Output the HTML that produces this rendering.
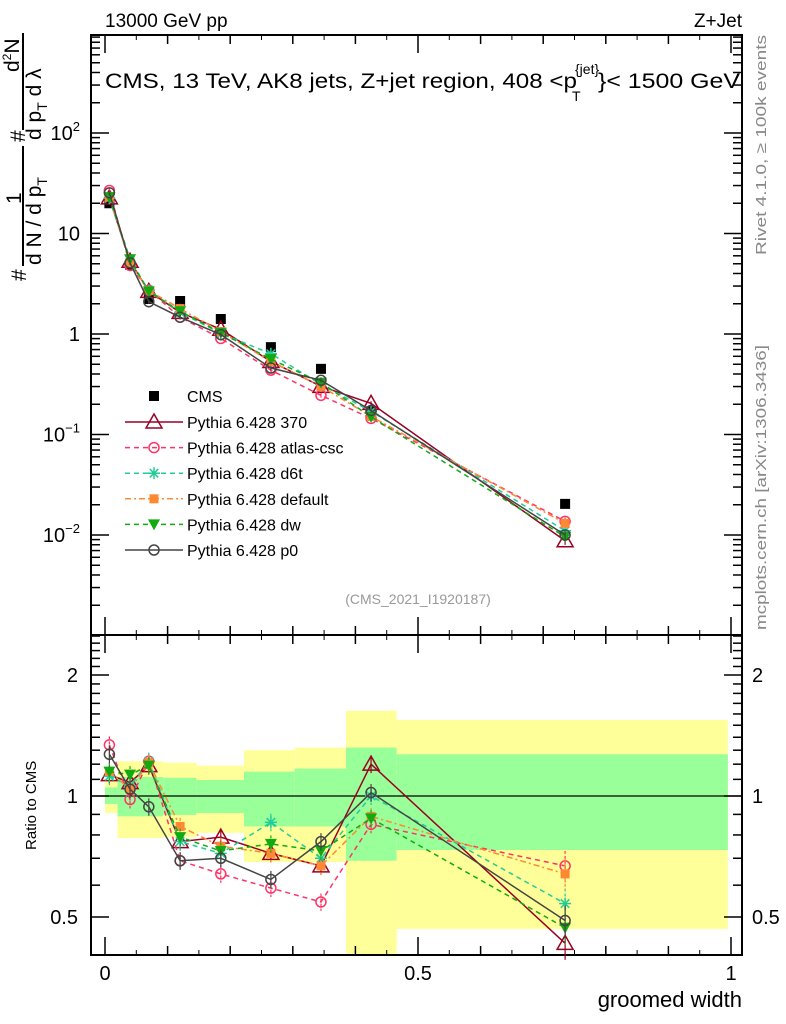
<!DOCTYPE html>
<html><head><meta charset="utf-8"><style>
html,body{margin:0;padding:0;background:#fff;}
svg{display:block;font-family:"Liberation Sans",sans-serif;}
</style></head><body>
<svg id="c" width="786" height="1024" viewBox="0 0 786 1024" xmlns="http://www.w3.org/2000/svg">
<text x="105" y="27" font-size="19">13000 GeV pp</text>
<text x="742" y="27" font-size="19" text-anchor="end">Z+Jet</text>
<g font-size="21">
<text transform="translate(26,281) rotate(-90)">#</text>
<text transform="translate(21,204) rotate(-90)">1</text>
<line x1="23" y1="146" x2="23" y2="266" stroke="#000" stroke-width="2"/>
<text transform="translate(41,265) rotate(-90)">d N / d p<tspan font-size="14" dy="6">T</tspan></text>
<text transform="translate(25,142) rotate(-90)">#</text>
<text transform="translate(19,72) rotate(-90)">d<tspan font-size="12" dy="-8">2</tspan><tspan dy="8">N</tspan></text>
<line x1="23" y1="33" x2="23" y2="130" stroke="#000" stroke-width="2"/>
<text transform="translate(41,140) rotate(-90)">d p<tspan font-size="14" dy="6">T</tspan><tspan dy="-6">  d λ</tspan></text>
</g>
<text transform="translate(766,255) rotate(-90)" font-size="15" fill="#888" textLength="220" lengthAdjust="spacingAndGlyphs">Rivet 4.1.0, ≥ 100k events</text>
<text transform="translate(766,630) rotate(-90)" font-size="15" fill="#888" textLength="285" lengthAdjust="spacingAndGlyphs">mcplots.cern.ch [arXiv:1306.3436]</text>
<text transform="translate(36,850) rotate(-90)" font-size="15">Ratio to CMS</text>
<text x="742" y="1007" font-size="22" text-anchor="end">groomed width</text>
<g>
<text x="105" y="88" font-size="21" textLength="472" lengthAdjust="spacingAndGlyphs">CMS, 13 TeV, AK8 jets, Z+jet region, 408 &lt;p</text>
<text x="572" y="101" font-size="14">T</text>
<text x="575" y="74" font-size="14">{jet}</text>
<text x="598" y="88" font-size="21" textLength="142" lengthAdjust="spacingAndGlyphs">}&lt; 1500 GeV</text>
</g>
</svg>
<script>
const categories=[0.007,0.04,0.07,0.12,0.185,0.265,0.345,0.425,0.735];
const cmsValues=[20,4.9,2.23,2.13,1.41,0.74,0.45,0.17,0.0204];
const ratio370=[1.13,1.08,1.19,0.77,0.79,0.72,0.67,1.2,0.43];
const ratioAtlas=[1.34,0.98,1.22,0.69,0.64,0.59,0.545,0.85,0.67];
const ratioD6t=[1.12,1.06,1.22,0.77,0.72,0.86,0.70,1.0,0.54];
const ratioDefault=[1.15,1.04,1.21,0.84,0.75,0.72,0.67,0.89,0.64];
const ratioDw=[1.15,1.13,1.19,0.79,0.73,0.76,0.73,0.88,0.47];
const ratioP0=[1.27,1.04,0.94,0.69,0.70,0.62,0.77,1.02,0.49];
const binEdges=[0,0.02,0.093,0.146,0.222,0.303,0.385,0.466,0.995];
const bandYellowHi=[1.096,1.22,1.21,1.19,1.30,1.32,1.63,1.545];
const bandYellowLo=[0.907,0.786,0.79,0.81,0.685,0.685,0.30,0.467];
const bandGreenHi=[1.05,1.115,1.11,1.096,1.15,1.17,1.32,1.27];
const bandGreenLo=[0.955,0.89,0.897,0.907,0.84,0.84,0.69,0.734];
const mainTicks=["10<tspan font-size='13' dy='-9'>−2</tspan>","10<tspan font-size='13' dy='-9'>−1</tspan>","1","10","10<tspan font-size='13' dy='-9'>2</tspan>"];
const ratioTicks=[2,1,0.5];
const xTicks=[0,0.5,1];

const NS="http://www.w3.org/2000/svg";
const svg=document.getElementById('c');
const L=91,R=742,T=35,M=635,B=955;
const X=v=>105+v*626;
const Y=v=>334-Math.log10(v)*100.5;
const RY=v=>796-Math.log2(v)*121;
function mk(tag,attrs,parent){const e=document.createElementNS(NS,tag);for(const k in attrs)e.setAttribute(k,attrs[k]);(parent||svg).appendChild(e);return e;}

const bands=mk('g',{});


for(let i=0;i<bandYellowHi.length;i++){
 const x1=X(binEdges[i]),x2=X(binEdges[i+1]);
 const yh=Math.max(RY(bandYellowHi[i]),M),yl=Math.min(RY(bandYellowLo[i]),B);
 const r=mk('rect',{x:x1,y:yh,width:x2-x1,height:yl-yh,fill:'#ffff99'},bands);
 
 
 const g=mk('rect',{x:x1,y:RY(bandGreenHi[i]),width:x2-x1,height:RY(bandGreenLo[i])-RY(bandGreenHi[i]),fill:'#99ff99'},bands);
 
 
}
mk('line',{x1:L,x2:R,y1:RY(1),y2:RY(1),stroke:'#000','stroke-width':1.3});

const f1=mk('rect',{x:L,y:T,width:R-L,height:M-T,fill:'none',stroke:'#000','stroke-width':2});


const f2=mk('rect',{x:L,y:M,width:R-L,height:B-M,fill:'none',stroke:'#000','stroke-width':2});



for(let k=0;k<=10;k++){
 const v=k/10, maj=(k%5==0), len=maj?18:9, x=X(v);
 [[T,1],[M,-1],[M,1],[B,-1]].forEach(([y,d])=>mk('line',{x1:x,x2:x,y1:y,y2:y+d*len,stroke:'#000','stroke-width':1.5}));
}
for(let k=0;k<10;k++){const x=X(k/10+0.05);[[T,1],[M,-1],[M,1],[B,-1]].forEach(([y,d])=>mk('line',{x1:x,x2:x,y1:y,y2:y+d*5,stroke:'#000','stroke-width':1}));}
xTicks.forEach(v=>{const t=mk('text',{x:X(v),y:980,'font-size':20,'text-anchor':'middle'});t.textContent=String(v);});

for(let e=-3;e<=2;e++){for(let m=1;m<10;m++){const v=m*Math.pow(10,e),y=Y(v);if(y<T||y>M)continue;const len=m==1?18:9;
 mk('line',{x1:L,x2:L+len,y1:y,y2:y,stroke:'#000','stroke-width':1.5});mk('line',{x1:R,x2:R-len,y1:y,y2:y,stroke:'#000','stroke-width':1.5});}}
mainTicks.forEach((s,i)=>{const t=mk('text',{x:80,y:Y(Math.pow(10,i-2))+7,'font-size':20,'text-anchor':'end'});t.innerHTML=s;});

[0.5,0.6,0.7,0.8,0.9,1,1.1,1.2,1.3,1.4,1.5,1.6,1.7,1.8,1.9,2,2.1,2.2,2.3,2.4,2.5].forEach(v=>{const y=RY(v);if(y<M||y>B)return;const maj=[0.5,1,2].includes(v),len=maj?18:9;
 mk('line',{x1:L,x2:L+len,y1:y,y2:y,stroke:'#000','stroke-width':1.5});mk('line',{x1:R,x2:R-len,y1:y,y2:y,stroke:'#000','stroke-width':1.5});});
ratioTicks.forEach(v=>{const a=mk('text',{x:78,y:RY(v)+7,'font-size':20,'text-anchor':'end'});a.textContent=String(v);
 const b=mk('text',{x:752,y:RY(v)+7,'font-size':20});b.textContent=String(v);});

const ref=mk('text',{x:418,y:604,'font-size':14,fill:'#999','text-anchor':'middle'});ref.textContent="(CMS_2021_I1920187)";


function marker(g,type,color,x,y){
 const s=6;
 if(type=='sq')mk('rect',{x:x-5,y:y-5,width:10,height:10,fill:color},g);
 else if(type=='tri')mk('polygon',{points:`${x},${y-8} ${x-8},${y+6} ${x+8},${y+6}`,fill:'none',stroke:color,'stroke-width':1.5},g);
 else if(type=='oc')mk('circle',{cx:x,cy:y,r:5,fill:'none',stroke:color,'stroke-width':1.5},g);
 else if(type=='sqf')mk('rect',{x:x-4.5,y:y-4.5,width:9,height:9,fill:color},g);
 else if(type=='dt')mk('polygon',{points:`${x-6},${y-5} ${x+6},${y-5} ${x},${y+6}`,fill:color},g);
 else if(type=='star'){for(const a of [0,45,90,135]){const r=a*Math.PI/180;mk('line',{x1:x-s*Math.cos(r),y1:y-s*Math.sin(r),x2:x+s*Math.cos(r),y2:y+s*Math.sin(r),stroke:color,'stroke-width':1.5},g);}}
}
const series=[
 {name:'pythia-370',label:'Pythia 6.428 370',r:ratio370,c:'#990022',m:'tri',d:''},
 {name:'pythia-atlas-csc',label:'Pythia 6.428 atlas-csc',r:ratioAtlas,c:'#ff3366',m:'oc',d:'5,4'},
 {name:'pythia-d6t',label:'Pythia 6.428 d6t',r:ratioD6t,c:'#22cc99',m:'star',d:'5,4'},
 {name:'pythia-default',label:'Pythia 6.428 default',r:ratioDefault,c:'#ff8833',m:'sqf',d:'6,3,2,3'},
 {name:'pythia-dw',label:'Pythia 6.428 dw',r:ratioDw,c:'#11aa11',m:'dt',d:'5,4'},
 {name:'pythia-p0',label:'Pythia 6.428 p0',r:ratioP0,c:'#444444',m:'oc',d:''}
];
const cg=mk('g',{});
categories.forEach((x,i)=>marker(cg,'sq','#000',X(x),Y(cmsValues[i])));
series.forEach(s=>{
 const g=mk('g',{});
 const pm=categories.map((x,i)=>X(x)+','+Y(cmsValues[i]*s.r[i])).join(' ');
 const pr=categories.map((x,i)=>X(x)+','+RY(s.r[i])).join(' ');
 mk('polyline',{points:pm,fill:'none',stroke:s.c,'stroke-width':1.5,'stroke-dasharray':s.d},g);
 mk('polyline',{points:pr,fill:'none',stroke:s.c,'stroke-width':1.5,'stroke-dasharray':s.d},g);
 categories.forEach((x,i)=>{
  const v=cmsValues[i]*s.r[i],e=i==8?0.09:0.05;
  mk('line',{x1:X(x),x2:X(x),y1:RY(s.r[i]*(1+e)),y2:RY(s.r[i]*(1-e)),stroke:s.c,'stroke-width':1.2,'stroke-dasharray':s.d?'3,2':''},g);
  mk('line',{x1:X(x),x2:X(x),y1:Y(v*(1+e)),y2:Y(v*(1-e)),stroke:s.c,'stroke-width':1.2},g);
  marker(g,s.m,s.c,X(x),Y(v));marker(g,s.m,s.c,X(x),RY(s.r[i]));
 });
});
const lg=mk('g',{});
const e0=mk('g',{},lg);
marker(e0,'sq','#000',154,396);const t0=mk('text',{x:187,y:402,'font-size':16},e0);t0.textContent='CMS';
series.forEach((s,i)=>{const y=422+i*25.6;const e=mk('g',{},lg);
 mk('line',{x1:125,x2:183,y1:y,y2:y,stroke:s.c,'stroke-width':1.5,'stroke-dasharray':s.d},e);marker(e,s.m,s.c,154,y);
 const t=mk('text',{x:187,y:y+6,'font-size':16},e);t.textContent=s.label;});
</script>
</body></html>
